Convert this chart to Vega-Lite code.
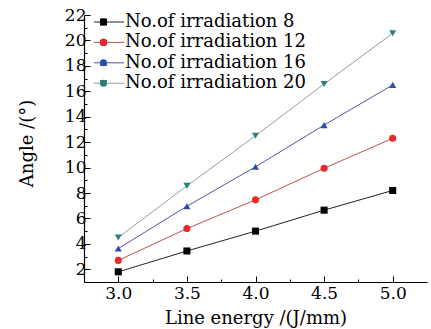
{
  "$schema": "https://vega.github.io/schema/vega-lite/v6.json",
  "width": 343,
  "height": 267,
  "autosize": "none",
  "padding": {"left": 84, "top": 15, "right": 4, "bottom": 47},
  "background": "#ffffff",
  "config": {
    "view": {"stroke": null},
    "font": "DejaVu Serif",
    "axis": {"grid": false, "domainColor": "#000000", "tickColor": "#000000", "labelColor": "#000000", "titleColor": "#000000", "labelFont": "DejaVu Serif", "titleFont": "DejaVu Serif", "labelFontSize": 17, "titleFontSize": 18, "titleFontWeight": "normal", "domainWidth": 1.2, "tickWidth": 1}
  },
  "data": {
    "values": [
      {"x": 3.0, "y": 1.8, "n": "No.of irradiation 8", "k": "8"},
      {"x": 3.5, "y": 3.44, "n": "No.of irradiation 8", "k": "8"},
      {"x": 4.0, "y": 5.0, "n": "No.of irradiation 8", "k": "8"},
      {"x": 4.5, "y": 6.65, "n": "No.of irradiation 8", "k": "8"},
      {"x": 5.0, "y": 8.2, "n": "No.of irradiation 8", "k": "8"},
      {"x": 3.0, "y": 2.7, "n": "No.of irradiation 12", "k": "12"},
      {"x": 3.5, "y": 5.2, "n": "No.of irradiation 12", "k": "12"},
      {"x": 4.0, "y": 7.46, "n": "No.of irradiation 12", "k": "12"},
      {"x": 4.5, "y": 9.95, "n": "No.of irradiation 12", "k": "12"},
      {"x": 5.0, "y": 12.3, "n": "No.of irradiation 12", "k": "12"},
      {"x": 3.0, "y": 3.63, "n": "No.of irradiation 16", "k": "16"},
      {"x": 3.5, "y": 6.96, "n": "No.of irradiation 16", "k": "16"},
      {"x": 4.0, "y": 10.06, "n": "No.of irradiation 16", "k": "16"},
      {"x": 4.5, "y": 13.34, "n": "No.of irradiation 16", "k": "16"},
      {"x": 5.0, "y": 16.5, "n": "No.of irradiation 16", "k": "16"},
      {"x": 3.0, "y": 4.5, "n": "No.of irradiation 20", "k": "20"},
      {"x": 3.5, "y": 8.56, "n": "No.of irradiation 20", "k": "20"},
      {"x": 4.0, "y": 12.5, "n": "No.of irradiation 20", "k": "20"},
      {"x": 4.5, "y": 16.57, "n": "No.of irradiation 20", "k": "20"},
      {"x": 5.0, "y": 20.56, "n": "No.of irradiation 20", "k": "20"}
    ]
  },
  "encoding": {
    "x": {
      "field": "x", "type": "quantitative",
      "scale": {"domain": [2.75, 5.25], "nice": false, "zero": false},
      "axis": {
        "title": "Line energy /(J/mm)",
        "values": [3.0, 3.25, 3.5, 3.75, 4.0, 4.25, 4.5, 4.75, 5.0],
        "labelExpr": "(datum.value * 4) % 2 == 0 ? format(datum.value, '.1f') : ''",
        "tickSize": {"condition": {"test": "(datum.value * 4) % 2 == 0", "value": -6}, "value": -3},
        "labelPadding": 9,
        "titlePadding": 8
      }
    },
    "y": {
      "field": "y", "type": "quantitative",
      "scale": {"domain": [1, 22], "nice": false, "zero": false},
      "axis": {
        "title": "Angle /(°)",
        "values": [2, 3, 4, 5, 6, 7, 8, 9, 10, 11, 12, 13, 14, 15, 16, 17, 18, 19, 20, 21, 22],
        "labelExpr": "datum.value % 2 == 0 ? datum.label : ''",
        "tickSize": {"condition": {"test": "datum.value % 2 == 0", "value": -6}, "value": -3},
        "labelPadding": 4,
        "titleX": -52,
        "titleY": 128,
        "titleBaseline": "alphabetic",
        "titleAlign": "center",
        "titleAngle": -90
      }
    }
  },
  "layer": [
    {
      "mark": {"type": "line", "strokeWidth": 1},
      "encoding": {
        "color": {
          "field": "n", "type": "nominal",
          "sort": ["No.of irradiation 8", "No.of irradiation 12", "No.of irradiation 16", "No.of irradiation 20"],
          "scale": {"range": ["#222222", "#c0504d", "#55559a", "#8fa0a0"]},
          "legend": {
            "title": null, "orient": "none", "legendX": 16, "legendY": -2, "padding": 0,
            "symbolType": "M-5,0H5", "symbolSize": 36, "symbolStrokeWidth": 1,
            "labelFont": "DejaVu Serif", "labelFontSize": 18, "labelColor": "#000000",
            "labelOffset": 7, "rowPadding": 2.4, "labelLimit": 300
          }
        }
      }
    },
    {
      "mark": {"type": "point", "filled": true, "size": 50, "opacity": 1},
      "encoding": {
        "shape": {
          "field": "k", "type": "nominal", "sort": ["8", "12", "16", "20"],
          "scale": {"range": ["square", "circle", "triangle-up", "triangle-down"]},
          "legend": {
            "title": null, "orient": "none", "legendX": 10.5, "legendY": -2, "padding": 0,
            "symbolSize": 50, "symbolStrokeWidth": 0,
            "labelFont": "DejaVu Serif", "labelFontSize": 18, "labelOpacity": 0, "rowPadding": 2.4
          }
        },
        "fill": {
          "field": "k", "type": "nominal", "sort": ["8", "12", "16", "20"],
          "scale": {"range": ["#000000", "#e8282a", "#2b4ea8", "#2a8080"]},
          "legend": {
            "title": null, "orient": "none", "legendX": 10.5, "legendY": -2, "padding": 0,
            "symbolSize": 50, "symbolStrokeWidth": 0,
            "labelFont": "DejaVu Serif", "labelFontSize": 18, "labelOpacity": 0, "rowPadding": 2.4
          }
        }
      }
    }
  ]
}
